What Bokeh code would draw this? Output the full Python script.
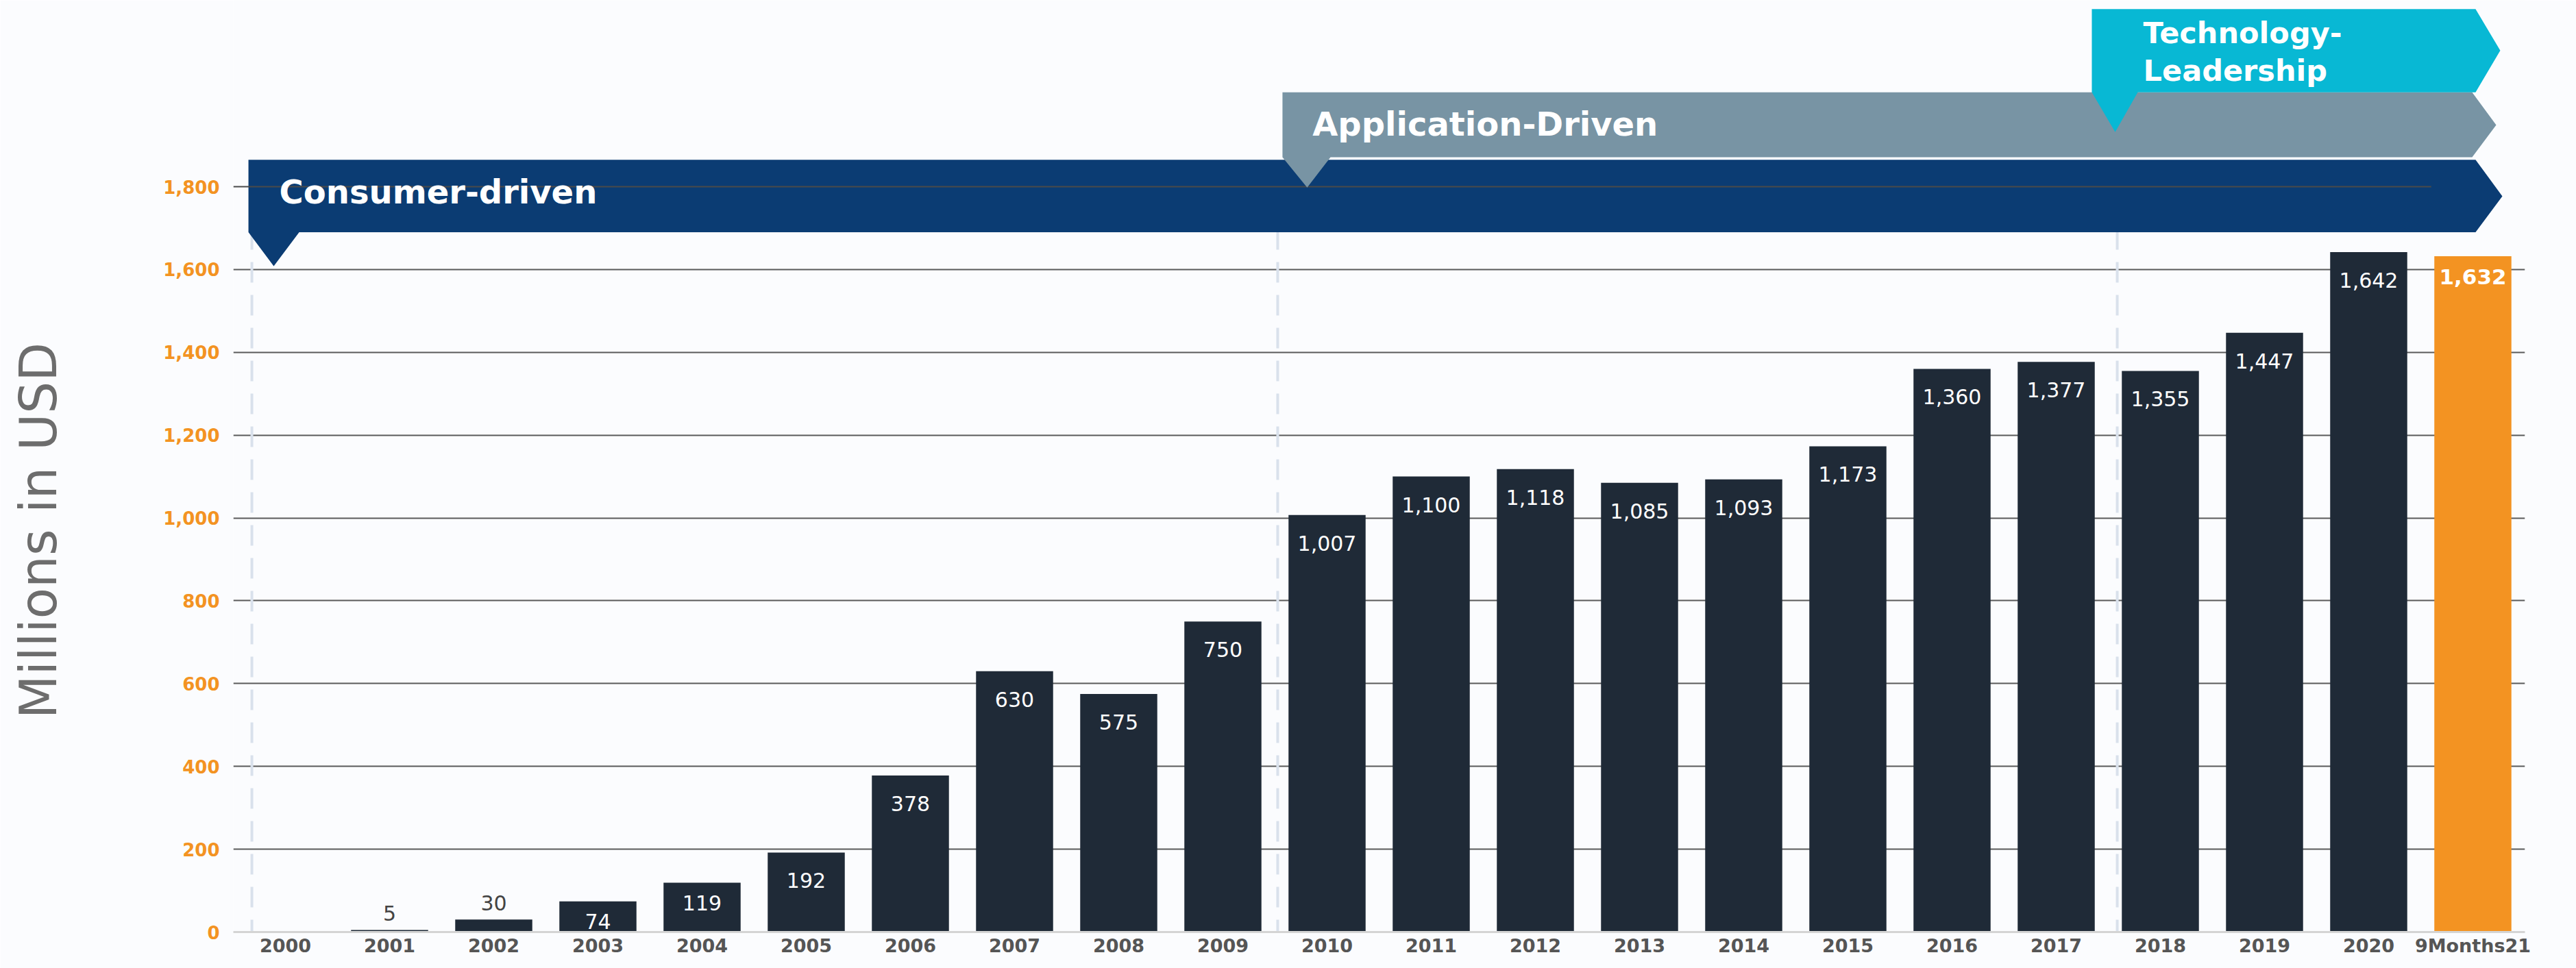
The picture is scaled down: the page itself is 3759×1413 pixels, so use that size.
from bokeh.plotting import figure
from bokeh.models import FactorRange, Range1d, FixedTicker, NumeralTickFormatter
from bokeh.core.properties import value
from bokeh.embed import file_html
from bokeh.resources import INLINE

# ---------------- data ----------------
categories = ["2000", "2001", "2002", "2003", "2004", "2005", "2006", "2007", "2008", "2009",
              "2010", "2011", "2012", "2013", "2014", "2015", "2016", "2017", "2018", "2019",
              "2020", "9Months21"]
revenue = [0, 5, 30, 74, 119, 192, 378, 630, 575, 750,
           1007, 1100, 1118, 1085, 1093, 1173, 1360, 1377, 1355, 1447,
           1642, 1632]
highlight = "9Months21"
y_ticks = [0, 200, 400, 600, 800, 1000, 1200, 1400, 1600, 1800]
y_title = "Millions in USD"

phase_names = ["Consumer-driven", "Application-Driven", "Technology-\nLeadership"]
phase_colors = ["#0B3C73", "#7894A4", "#08B8D4"]

BAR_DARK = "#1F2A37"
BAR_HI = "#F39322"

# ---------------- figure ----------------
W, H = 3759, 1413
p = figure(width=W, height=H, x_range=FactorRange(*categories, range_padding=0, factor_padding=0),
           y_range=Range1d(0, 2250), output_backend="svg", toolbar_location=None,
           min_border_left=340, min_border_right=75, min_border_top=0, min_border_bottom=53)
p.background_fill_color = "#FBFCFE"
p.border_fill_color = "#FBFCFE"
p.outline_line_color = None

# axes
p.xaxis.axis_line_color = "#D4D4D4"
p.xaxis.axis_line_width = 3
p.xaxis.major_tick_line_color = None
p.xaxis.major_tick_out = 0
p.xaxis.major_tick_in = 0
p.xaxis.minor_tick_line_color = None
p.xaxis.major_label_text_font = "DejaVu Sans"
p.xaxis.major_label_text_font_style = "bold"
p.xaxis.major_label_text_font_size = "27px"
p.xaxis.major_label_text_color = "#555555"
p.xaxis.major_label_standoff = 4

p.yaxis.ticker = FixedTicker(ticks=y_ticks)
p.yaxis.formatter = NumeralTickFormatter(format="0,0")
p.yaxis.axis_line_color = None
p.yaxis.major_tick_line_color = None
p.yaxis.major_tick_out = 0
p.yaxis.major_tick_in = 0
p.yaxis.minor_tick_line_color = None
p.yaxis.major_label_text_font = "DejaVu Sans"
p.yaxis.major_label_text_font_style = "bold"
p.yaxis.major_label_text_font_size = "26px"
p.yaxis.major_label_text_color = "#F39322"
p.yaxis.major_label_standoff = 20
# axis title, nudged below the frame centre by trailing no-break spaces
p.yaxis.axis_label = y_title + "\u00a0" * 8
p.yaxis.axis_label_text_font = "DejaVu Sans"
p.yaxis.axis_label_text_font_style = "normal"
p.yaxis.axis_label_text_font_size = "74px"
p.yaxis.axis_label_text_color = "#6D6D6D"
p.yaxis.axis_label_standoff = 136

p.xgrid.grid_line_color = None
p.ygrid.ticker = FixedTicker(ticks=y_ticks[1:-1])
p.ygrid.grid_line_color = "#5A5A5A"
p.ygrid.grid_line_width = 2

# ---------------- phase banners ----------------
dash_x = [0.178, 10.026, 18.086]
for dx in dash_x:
    p.line(x=[dx, dx], y=[-20, 1700], line_color="#D9E1EC", line_width=4, line_dash="30 18")

banners = [
    # left, notchR, notchTipX, notchTipY, bottom, top, right, tipX, midY
    (0.145, 0.632, 0.388, 1608, 1690, 1865, 21.526, 21.783, 1777),
    (10.072, 10.533, 10.309, 1798, 1871, 2028, 21.493, 21.724, 1949),
    (17.842, 18.283, 18.066, 1932, 2028, 2229, 21.526, 21.763, 2129),
]
for i, ((l, nr, ntx, nty, b, t, r, tx, my), col) in enumerate(zip(banners, phase_colors)):
    xs = [l, r, tx, r, nr, ntx, l]
    ys = [t, t, my, b, b, nty, b]
    p.patch(x=xs, y=ys, fill_color=col, line_color=None)
    if i == 0:
        # top gridline shows through the first banner
        p.segment(x0=[0], y0=[y_ticks[-1]], x1=[21.1], y1=[y_ticks[-1]], line_color="#4A4A4A", line_width=2)

# banner titles
btxt = dict(text_color="white", text_font=value("DejaVu Sans"), text_font_style="bold",
            text_baseline="middle", text_align="left")
p.text(x=[0.441], y=[1787], text=[phase_names[0]], text_font_size="48px", **btxt)
p.text(x=[10.36], y=[1951], text=[phase_names[1]], text_font_size="48px", **btxt)
tl = phase_names[2].split("\n")
p.text(x=[18.336, 18.336], y=[2171, 2081], text=tl, text_font_size="43px", **btxt)

# ---------------- bars ----------------
colors = [BAR_HI if c == highlight else BAR_DARK for c in categories]
p.vbar(x=categories, top=revenue, width=0.74, fill_color=colors, line_color=None)

# value labels
groups = {"inside": ([], [], []), "short": ([], [], []), "above": ([], [], []), "hi": ([], [], [])}
for c, v in zip(categories, revenue):
    if v <= 0:
        continue
    if c == highlight:
        g = "hi"
    elif v < 60:
        g = "above"
    elif v < 150:
        g = "short"
    else:
        g = "inside"
    groups[g][0].append(c); groups[g][1].append(v); groups[g][2].append(f"{v:,}")

common = dict(text_font=value("DejaVu Sans"), text_align="center", text_baseline="middle")
gx, gy, gt = groups["inside"]
p.text(x=gx, y=gy, text=gt, text_color="white", text_font_size="30px", y_offset=41, **common)
gx, gy, gt = groups["short"]
p.text(x=gx, y=gy, text=gt, text_color="white", text_font_size="30px", y_offset=29, **common)
gx, gy, gt = groups["above"]
p.text(x=gx, y=gy, text=gt, text_color="#444444", text_font_size="30px", y_offset=-24, **common)
gx, gy, gt = groups["hi"]
p.text(x=gx, y=gy, text=gt, text_color="white", text_font_style="bold", text_font_size="31px",
       y_offset=30, **common)

open("out.html", "w").write(file_html(p, INLINE))
